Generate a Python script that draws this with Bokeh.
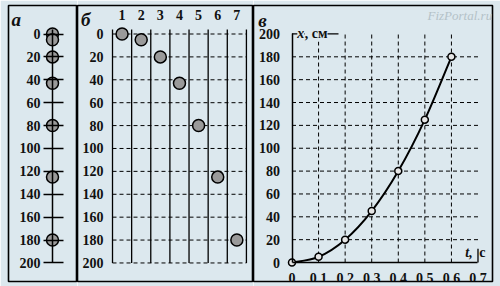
from bokeh.plotting import figure
from bokeh.layouts import row
from bokeh.models import Range1d, LinearAxis, FixedTicker, Label
from bokeh.embed import file_html
from bokeh.resources import INLINE

# ---------------- data ----------------
pos_a = [0, 5, 20, 43, 80, 125, 180]          # panel а: positions on the scale, cm
frames_b = [1, 2, 3, 4, 5, 6, 7]              # panel б: frame numbers
pos_b = [0, 5, 20, 43, 80, 125, 180]          # panel б: positions, cm
t_c = [0, 0.1, 0.2, 0.3, 0.4, 0.5, 0.6]       # panel в: time, s
x_c = [0, 5, 20, 45, 80, 125, 180]            # panel в: position, cm
y_ticks = [0, 20, 40, 60, 80, 100, 120, 140, 160, 180, 200]
t_ticks = [0, 0.1, 0.2, 0.3, 0.4, 0.5, 0.6, 0.7]
t_labels = ["0", "0,1", "0,2", "0,3", "0,4", "0,5", "0,6", "0,7"]

# ---------------- style ----------------
BG = "#dce8ee"
FONT = "Liberation Serif"
LBL = "14px"


def make_fig(w, xr, yr, ml, mr):
    p = figure(width=w, height=286, x_range=xr, y_range=yr,
               output_backend="svg", toolbar_location=None,
               x_axis_type=None, y_axis_type=None,
               min_border_left=ml, min_border_right=mr,
               min_border_top=5, min_border_bottom=5,
               background_fill_color=BG, border_fill_color=BG,
               outline_line_color="black", outline_line_width=1.6)
    return p


def style_axis(ax):
    ax.major_label_text_font = FONT
    ax.major_label_text_font_size = LBL
    ax.major_label_text_font_style = "bold"
    ax.major_label_text_color = "#111111"
    ax.minor_tick_line_color = None
    return ax


def label(p, x, y, text, style="normal", size="14px", color="#111111", **kw):
    p.add_layout(Label(x=x, y=y, text=text, text_font=FONT, text_font_style=style,
                       text_font_size=size, text_color=color,
                       text_baseline="middle", **kw))


# ---------------- panel а ----------------
pa = make_fig(77, Range1d(-44, 25), Range1d(216.2, -24.9), 8, 0)
axa = style_axis(LinearAxis(fixed_location=0, ticker=FixedTicker(ticks=y_ticks),
                            bounds=(-4, 200), axis_line_width=1.5,
                            major_tick_out=9, major_tick_in=11,
                            major_tick_line_width=1.3, major_label_standoff=3))
pa.add_layout(axa, "left")
pa.scatter(x=[0] * len(pos_a), y=pos_a, size=12, fill_color="#9a9a9a",
           line_color="black", line_width=1.5)
label(pa, -41, -12.5, "а", style="bold italic", size="19px")

# ---------------- panel б ----------------
pb = make_fig(176, Range1d(-1.33, 7.87), Range1d(216.2, -24.9), 0, 0)
sep = [f - 0.5 for f in frames_b] + [frames_b[-1] + 0.5]
pb.segment(x0=[sep[0]] * len(y_ticks), y0=y_ticks, x1=[sep[-1]] * len(y_ticks), y1=y_ticks,
           line_color="black", line_width=1, line_dash="4 3")
pb.segment(x0=sep, y0=[-4] * len(sep), x1=sep, y1=[200] * len(sep),
           line_color="black", line_width=1.3)
axb = style_axis(LinearAxis(fixed_location=sep[0], ticker=FixedTicker(ticks=y_ticks),
                            axis_line_color=None, major_tick_line_color=None,
                            major_label_standoff=3))
pb.add_layout(axb, "left")
axb2 = style_axis(LinearAxis(fixed_location=-4, ticker=FixedTicker(ticks=frames_b),
                             axis_line_color=None, major_tick_line_color=None,
                             major_label_standoff=3))
pb.add_layout(axb2, "above")
pb.scatter(x=frames_b, y=pos_b, size=12, fill_color="#9a9a9a",
           line_color="black", line_width=1.5)
label(pb, -1.15, -12.5, "б", style="bold italic", size="19px")

# ---------------- panel в ----------------
pc = make_fig(247, Range1d(-0.1449, 0.7546), Range1d(-16.6, 224.9), 0, 8)
vt = t_ticks[1:-1]
pc.segment(x0=vt, y0=[0] * len(vt), x1=vt, y1=[y_ticks[-1]] * len(vt),
           line_color="black", line_width=1, line_dash="4 3")
hy = y_ticks[1:-1]
pc.segment(x0=[0] * len(hy), y0=hy, x1=[t_ticks[-1]] * len(hy), y1=hy,
           line_color="black", line_width=1, line_dash="4 3")
pc.segment(x0=[0], y0=[y_ticks[-1]], x1=[0.175], y1=[y_ticks[-1]],
           line_color="black", line_width=1.3)
pc.segment(x0=[t_ticks[-1]], y0=[0], x1=[t_ticks[-1]], y1=[12],
           line_color="black", line_width=1.3)
axc = style_axis(LinearAxis(fixed_location=0, ticker=FixedTicker(ticks=y_ticks),
                            bounds=(0, 200), axis_line_width=1.5,
                            major_tick_line_color=None, major_label_standoff=6))
pc.add_layout(axc, "left")
axc2 = style_axis(LinearAxis(fixed_location=0, ticker=FixedTicker(ticks=t_ticks),
                             bounds=(0, 0.7), axis_line_width=1.5,
                             major_tick_line_color=None, major_label_standoff=4,
                             major_label_overrides=dict(zip(t_ticks, t_labels))))
pc.add_layout(axc2, "below")

# smooth curve through the measured points (Catmull-Rom -> cubic Bezier)
n = len(t_c)
x0s, y0s, x1s, y1s, cx0, cy0, cx1, cy1 = [], [], [], [], [], [], [], []
for i in range(n - 1):
    pm = max(i - 1, 0)
    pp = min(i + 2, n - 1)
    x0s.append(t_c[i]); y0s.append(x_c[i])
    x1s.append(t_c[i + 1]); y1s.append(x_c[i + 1])
    cx0.append(t_c[i] + (t_c[i + 1] - t_c[pm]) / 6)
    cy0.append(x_c[i] + (x_c[i + 1] - x_c[pm]) / 6)
    cx1.append(t_c[i + 1] - (t_c[pp] - t_c[i]) / 6)
    cy1.append(x_c[i + 1] - (x_c[pp] - x_c[i]) / 6)
pc.bezier(x0=x0s, y0=y0s, x1=x1s, y1=y1s, cx0=cx0, cy0=cy0, cx1=cx1, cy1=cy1,
          line_color="black", line_width=2)
pc.scatter(x=t_c, y=x_c, size=7, fill_color="#e6e6e6",
           line_color="black", line_width=1.5)

label(pc, 0.02, 200, "x", style="bold italic", size="14px", background_fill_color=BG)
label(pc, 0.048, 200, ", см", style="bold", size="14px", background_fill_color=BG)
label(pc, 0.652, 9, "t,", style="bold italic", size="14px")
label(pc, 0.705, 9, "c", style="bold", size="14px")
label(pc, -0.127, 212, "в", style="bold italic", size="19px")
label(pc, 0.51, 216, "FizPortal.ru", style="italic", size="13px", color="#b4c2c8")

layout = row(pa, pb, pc, spacing=0)
open("out.html", "w").write(file_html(layout, INLINE))
